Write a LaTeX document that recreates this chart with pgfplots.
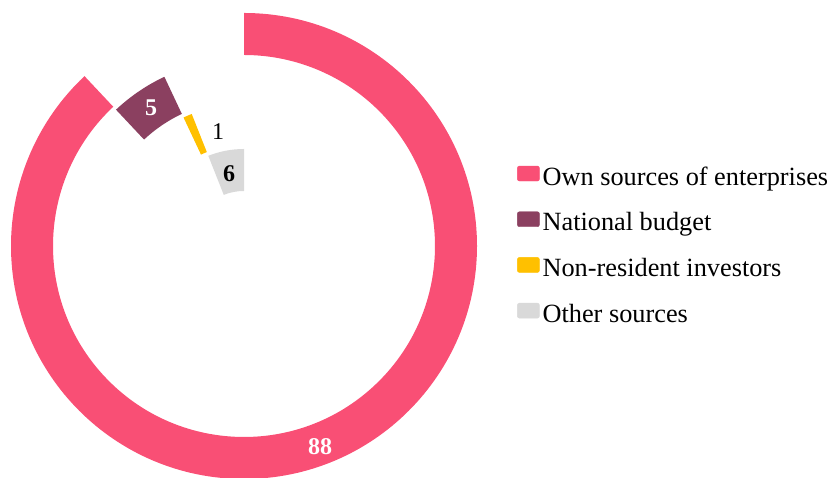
\documentclass[border=0pt]{standalone}
\usepackage{fontspec}
\setmainfont{Liberation Serif}
\usepackage{pgfplots}
\pgfplotsset{compat=1.18}
\usetikzlibrary{calc}
\definecolor{cOwn}{RGB}{249,79,117}
\definecolor{cBud}{RGB}{139,64,96}
\definecolor{cNon}{RGB}{255,192,0}
\definecolor{cOth}{RGB}{217,217,217}
% #1 colour, #2 cumulative share before, #3 share, #4 outer radius, #5 inner radius
\newcommand{\ringseg}[5]{%
  \fill[#1] ($(axis cs:0,0)+({90-3.6*#2}:#4pt)$)
    arc[start angle={90-3.6*#2}, delta angle={-3.6*#3}, radius=#4pt]
    -- ($(axis cs:0,0)+({90-3.6*(#2+#3)}:#5pt)$)
    arc[start angle={90-3.6*(#2+#3)}, delta angle={3.6*#3}, radius=#5pt]
    -- cycle;}
\begin{document}
\begin{tikzpicture}
\begin{axis}[
  x=1pt, y=1pt,
  xmin=-244, xmax=589, ymin=-232, ymax=246,
  hide axis, clip=false,
  legend style={draw=none, fill=none, at={(axis cs:270,-1)}, anchor=west,
    font=\fontsize{26.3}{30}\selectfont, row sep=20.5pt,
    nodes={inner sep=0pt, text height=18pt, text depth=6pt},
    cells={anchor=west}},
]
\coordinate (sw) at (rel axis cs:0,0);
\coordinate (ne) at (rel axis cs:1,1);
% shares: 88, 5, 1, 6
\ringseg{cOwn}{0}{88}{233}{191}
\ringseg{cBud}{88}{5}{187}{146}
\ringseg{cNon}{93}{1}{142}{101}
\ringseg{cOth}{94}{6}{97}{55}
\node[font=\fontsize{24}{28}\selectfont\bfseries, text=white] at (axis cs:76,-201) {88};
\node[font=\fontsize{24}{28}\selectfont\bfseries, text=white] at (axis cs:-93,138) {5};
\node[font=\fontsize{24}{28}\selectfont] at (axis cs:-26,114) {1};
\node[font=\fontsize{24}{28}\selectfont\bfseries] at (axis cs:-15,72) {6};
\addlegendimage{legend image code/.code={\fill[cOwn, rounded corners=2pt] (0pt,-2pt) rectangle (22pt,13pt); \path (25pt,0pt);}}
\addlegendentry{Own sources of enterprises}
\addlegendimage{legend image code/.code={\fill[cBud, rounded corners=2pt] (0pt,-2pt) rectangle (22pt,13pt); \path (25pt,0pt);}}
\addlegendentry{National budget}
\addlegendimage{legend image code/.code={\fill[cNon, rounded corners=2pt] (0pt,-2pt) rectangle (22pt,13pt); \path (25pt,0pt);}}
\addlegendentry{Non-resident investors}
\addlegendimage{legend image code/.code={\fill[cOth, rounded corners=2pt] (0pt,-2pt) rectangle (22pt,13pt); \path (25pt,0pt);}}
\addlegendentry{Other sources}
\end{axis}
\pgfresetboundingbox
\path (sw) rectangle (ne);
\end{tikzpicture}
\end{document}
